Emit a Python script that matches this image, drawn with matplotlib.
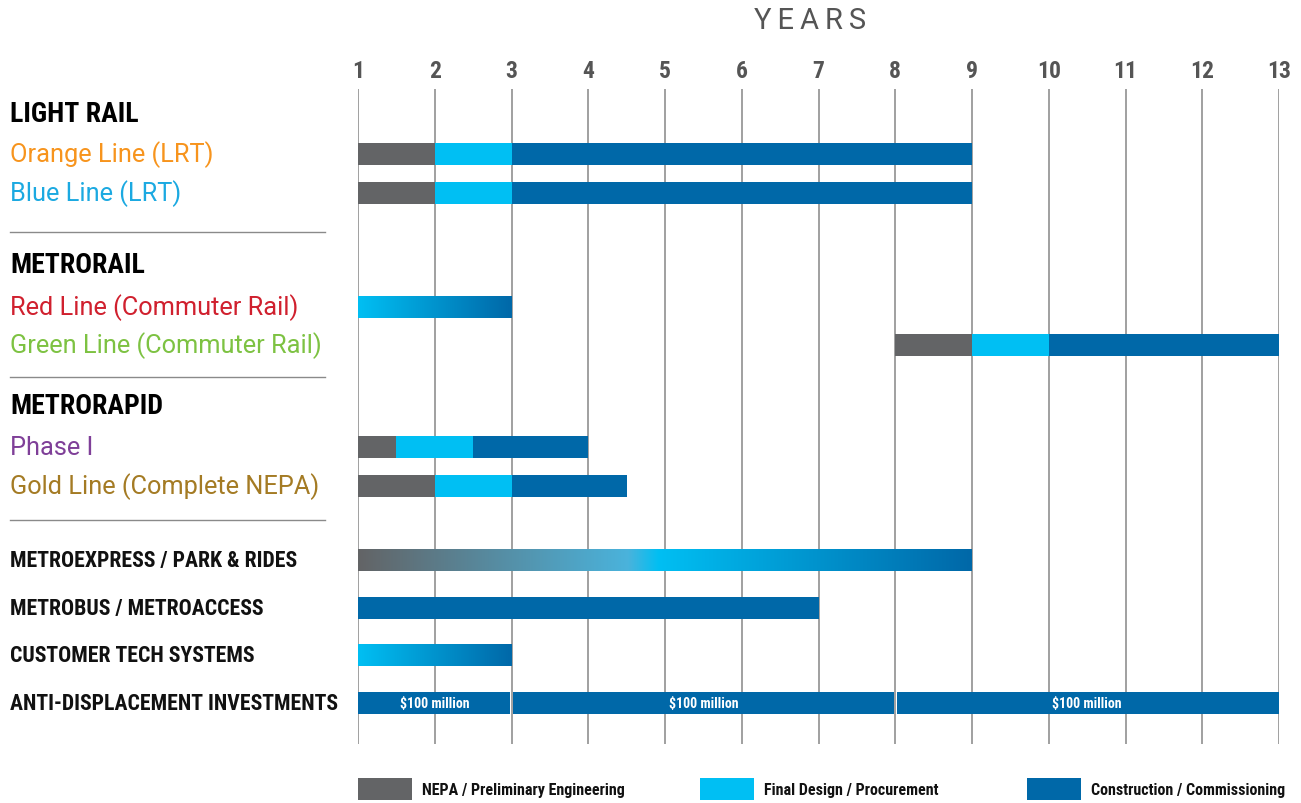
import matplotlib

matplotlib.use("Agg")
import matplotlib.pyplot as plt
import numpy as np
from matplotlib.colors import LinearSegmentedColormap
from matplotlib.patches import Rectangle
from matplotlib.transforms import blended_transform_factory

# ----------------------------------------------------------------
# Data
# ----------------------------------------------------------------
years = list(range(1, 14))

phase_names = ["NEPA / Preliminary Engineering", "Final Design / Procurement",
               "Construction / Commissioning"]
phase_colors = ["#636466", "#00BFF3", "#0068A8"]

headers = ["LIGHT RAIL", "METRORAIL", "METRORAPID"]

row_labels = [
    "Orange Line (LRT)", "Blue Line (LRT)",
    "Red Line (Commuter Rail)", "Green Line (Commuter Rail)",
    "Phase I", "Gold Line (Complete NEPA)",
    "METROEXPRESS / PARK & RIDES", "METROBUS / METROACCESS",
    "CUSTOMER TECH SYSTEMS", "ANTI-DISPLACEMENT INVESTMENTS",
]
row_label_colors = ["#F7941D", "#1BA9E1", "#D0202E", "#7DC242",
                    "#7F3F98", "#A47B24", "#111111", "#111111",
                    "#111111", "#111111"]
row_label_bold = [False] * 6 + [True] * 4

# solid segments: (row index, start year, end year, phase index)
segments = [
    (0, 1, 2, 0), (0, 2, 3, 1), (0, 3, 9, 2),
    (1, 1, 2, 0), (1, 2, 3, 1), (1, 3, 9, 2),
    (3, 8, 9, 0), (3, 9, 10, 1), (3, 10, 13, 2),
    (4, 1, 1.5, 0), (4, 1.5, 2.5, 1), (4, 2.5, 4, 2),
    (5, 1, 2, 0), (5, 2, 3, 1), (5, 3, 4.5, 2),
    (7, 1, 7, 2),
]
# blended (gradient) segments: (row index, start, end, kind)
gradients = [
    (2, 1, 3, "design_build"),
    (6, 1, 9, "all"),
    (8, 1, 3, "design_build"),
]
# anti-displacement funding blocks
funding_start = [1, 3, 8]
funding_end = [3, 8, 13]
funding_text = ["$100 million", "$100 million", "$100 million"]

# ----------------------------------------------------------------
# Layout (pixel rows of the original graphic)
# ----------------------------------------------------------------
W, H = 1301, 804
header_y = [115, 266, 407]
row_y = [155, 194, 308, 346, 448, 487, 561, 609, 656, 704]
separator_y = [233, 378, 521]
bar_h = 22
ax_top, ax_bottom = 90, 745
x_left, x_right = 358, 1279

cond = ["Roboto Condensed", "DejaVu Sans"]
reg = ["Roboto", "DejaVu Sans"]

fig = plt.figure(figsize=(W / 100, H / 100), dpi=100)
fig.patch.set_facecolor("white")
ax = fig.add_axes([x_left / W, 1 - ax_bottom / H,
                   (x_right - x_left) / W, (ax_bottom - ax_top) / H])
ax.set_facecolor("none")

# vertical year grid
for yr in years:
    ax.axvline(yr, color="#A0A0A0", lw=1.4, zorder=0)

for r, x0, x1, p in segments:
    ax.barh(row_y[r], x1 - x0, left=x0, height=bar_h,
            color=phase_colors[p], linewidth=0, zorder=2)

ramps = {
    "design_build": LinearSegmentedColormap.from_list(
        "db", [phase_colors[1], phase_colors[2]]),
    "all": LinearSegmentedColormap.from_list(
        "all", [(0.0, phase_colors[0]), (0.44, "#4AB3DC"),
                (0.49, phase_colors[1]), (1.0, phase_colors[2])]),
}
ramp = np.linspace(0, 1, 256).reshape(1, -1)
for r, x0, x1, kind in gradients:
    ax.imshow(ramp, cmap=ramps[kind], aspect="auto", zorder=2,
              extent=(x0, x1, row_y[r] + bar_h / 2, row_y[r] - bar_h / 2),
              interpolation="bilinear")

gap = 0.02
for x0, x1, txt in zip(funding_start, funding_end, funding_text):
    left = x0 + (gap if x0 > funding_start[0] else 0)
    right = x1 - (gap if x1 < funding_end[-1] else 0)
    ax.barh(row_y[9], right - left, left=left, height=bar_h,
            color=phase_colors[2], linewidth=0, zorder=2)
    ax.text((x0 + x1) / 2, row_y[9], txt, color="white", fontsize=10,
            fontweight="bold", family=cond, ha="center", va="center",
            zorder=3)

ax.set_xlim(1, 13)
ax.set_ylim(ax_bottom, ax_top)
ax.set_xticks(years)
ax.set_xticklabels([str(y) for y in years], family=cond,
                   fontsize=17, fontweight="bold", color="#555555")
ax.xaxis.tick_top()
ax.tick_params(axis="x", length=0, pad=5)
ax.set_yticks([])
for s in ax.spines.values():
    s.set_visible(False)

# left-hand labels
tr = blended_transform_factory(fig.transFigure, ax.transData)
for txt, y in zip(headers, header_y):
    ax.text(10 / W, y, txt, transform=tr, fontsize=20, fontweight="bold",
            family=cond, color="#000000", va="center", ha="left",
            clip_on=False)
for txt, y, c, b in zip(row_labels, row_y, row_label_colors, row_label_bold):
    if b:
        ax.text(10 / W, y, txt, transform=tr, fontsize=15.7, fontweight="bold",
                family=cond, color=c, va="center", ha="left", clip_on=False)
    else:
        ax.text(10 / W, y, txt, transform=tr, fontsize=18.3, family=reg,
                color=c, va="center", ha="left", clip_on=False)
for y in separator_y:
    ax.plot([10 / W, 325 / W], [y, y], transform=tr, color="#8A8A8A",
            lw=1.0, clip_on=False)

fig.text(810 / W, 1 - 21 / H, "Y\u2009E\u2009A\u2009R\u2009S", fontsize=21,
         color="#555555", ha="center", va="center", family=reg,
         fontweight="normal")

# legend
leg_x = [358, 700, 1027]
for x, name, c in zip(leg_x, phase_names, phase_colors):
    fig.add_artist(Rectangle((x / W, 1 - 801 / H), 54 / W, 22 / H,
                             transform=fig.transFigure, color=c, lw=0))
    fig.text((x + 64) / W, 1 - 791 / H, name, fontsize=11.5, fontweight="bold",
             family=cond, color="#111111", ha="left", va="center")

fig.savefig("out.png", dpi=100, facecolor="white")
plt.close(fig)
